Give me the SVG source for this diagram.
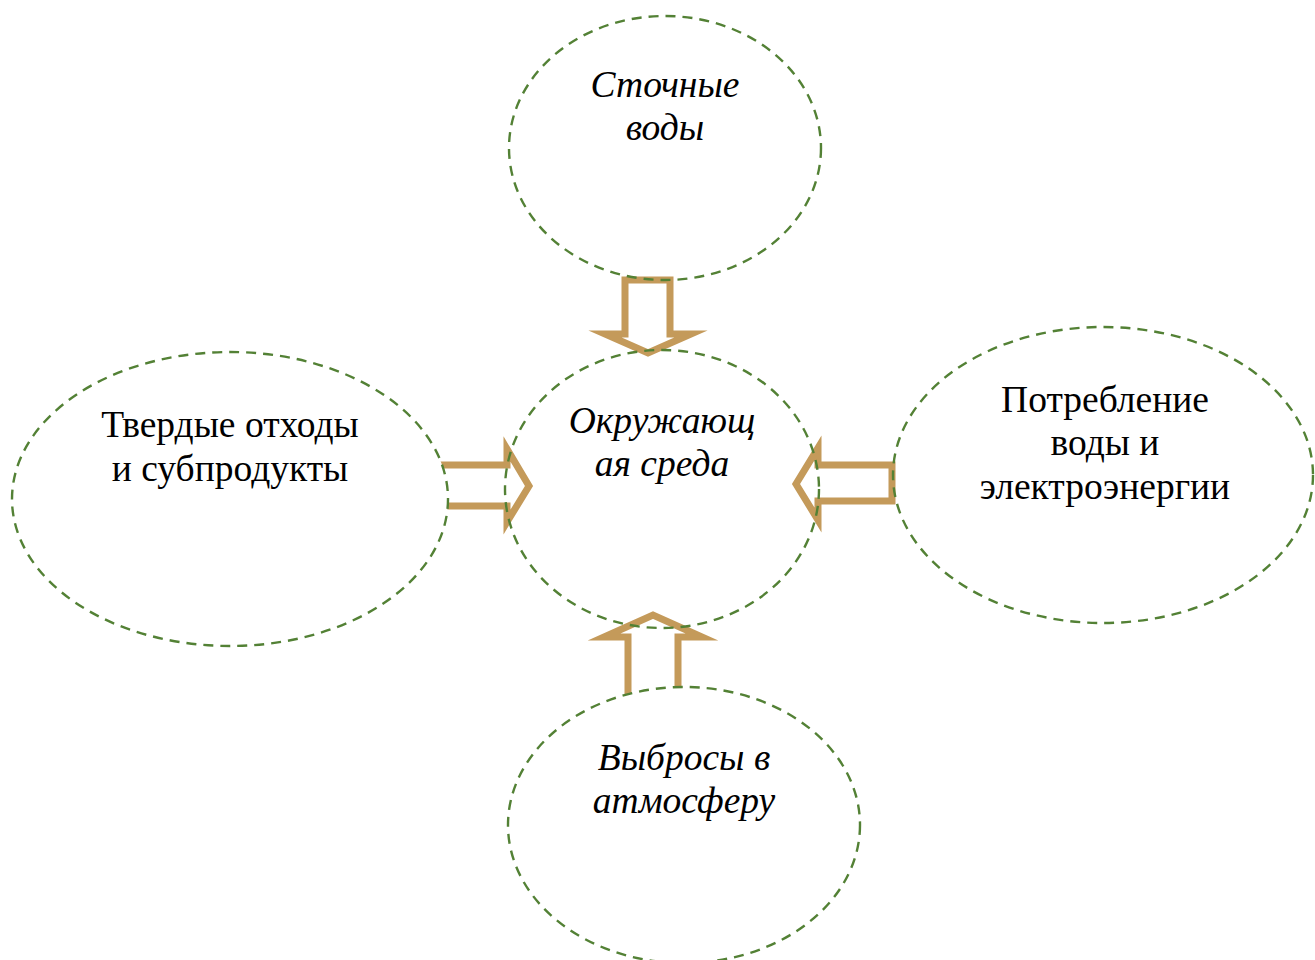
<svg xmlns="http://www.w3.org/2000/svg" width="1315" height="960" viewBox="0 0 1315 960">
<style>
.arrow{fill:none;stroke:#C49A5A;stroke-width:7;stroke-linejoin:miter;stroke-miterlimit:10}
.node{stroke:#538135;stroke-width:2.4;stroke-dasharray:10 7}
.t{font-family:"Liberation Serif","Times New Roman",serif;font-size:37.5px;fill:#000;text-anchor:middle}
.i{font-style:italic}
</style>
<rect width="1315" height="960" fill="#fff"/>
<g id="connectors">
<polygon class="arrow" points="625,280 670,280 670,334 691,334 648,353 605,334 625,334"/>
<polygon class="arrow" points="440,465 507,465 507,449 529,486 507,522 507,506 440,506"/>
<polygon class="arrow" points="892,465 818,465 818,448 796,484 818,520 818,501 892,501"/>
<polygon class="arrow" points="628,700 628,637 604,637 653,615 702,637 678,637 678,700"/>
</g>
<g id="node-top"><ellipse class="node" cx="665" cy="148" rx="156" ry="132" fill="none"/>
<text class="t i" x="665" y="97">Сточные</text><text class="t i" x="665" y="140">воды</text></g>
<g id="node-center"><ellipse class="node" cx="662" cy="489" rx="157" ry="139" fill="none"/>
<text class="t i" x="662" y="433">Окружающ</text><text class="t i" x="662" y="476">ая среда</text></g>
<g id="node-left"><ellipse class="node" cx="230" cy="499" rx="218" ry="147" fill="#fff"/>
<text class="t" x="230" y="437">Твердые отходы</text><text class="t" x="230" y="481">и субпродукты</text></g>
<g id="node-right"><ellipse class="node" cx="1103" cy="475" rx="210" ry="148" fill="none"/>
<text class="t" x="1105" y="412">Потребление</text><text class="t" x="1105" y="455">воды и</text><text class="t" x="1105" y="499">электроэнергии</text></g>
<g id="node-bottom"><ellipse class="node" cx="684" cy="825" rx="176" ry="138" fill="#fff"/>
<text class="t i" x="684" y="770">Выбросы в</text><text class="t i" x="684" y="813">атмосферу</text></g>
</svg>
